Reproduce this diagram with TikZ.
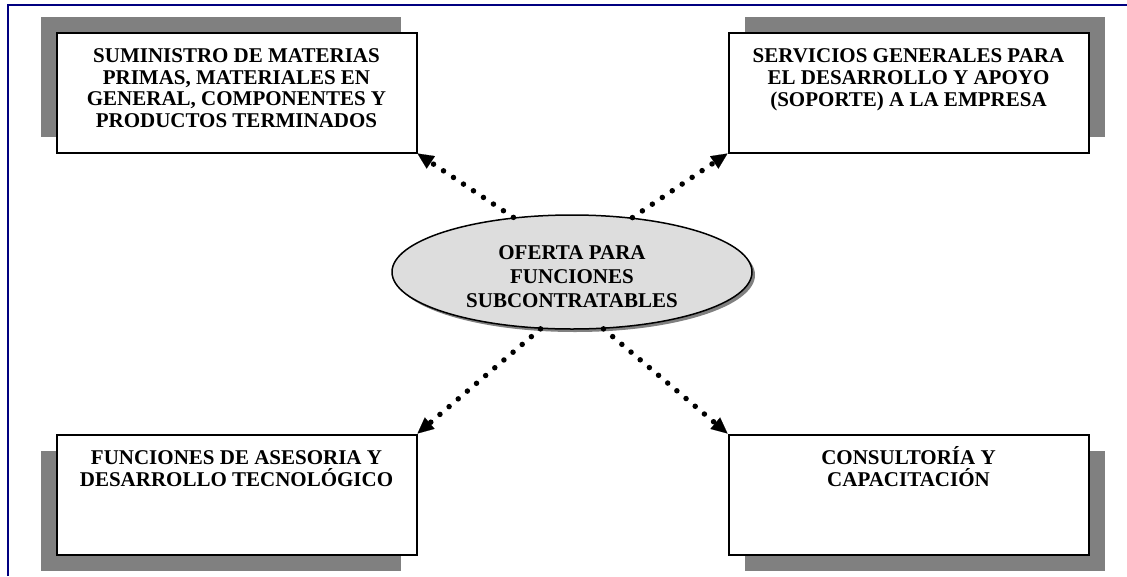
\documentclass[tikz,border=0pt]{standalone}
\usepackage{fontspec}
\setmainfont{Liberation Serif}
\usetikzlibrary{shapes.geometric,shadows,arrows.meta}
\definecolor{framenavy}{HTML}{000080}
\definecolor{shadowgray}{HTML}{808080}
\definecolor{ovalfill}{HTML}{DDDDDD}
\tikzset{
  x=1pt, y=-1pt,
  frame/.style={draw=framenavy, line width=2pt},
  box/.style={draw=black, line width=2pt, fill=white, minimum width=360pt,
    minimum height=120pt, inner sep=0pt},
  boxtext/.style={font=\fontsize{21}{21.7}\selectfont\bfseries, align=center,
    inner sep=0pt, anchor=base},
  shadowNW/.style={general shadow={fill=shadowgray, shadow xshift=-16pt, shadow yshift=16pt}},
  shadowNE/.style={general shadow={fill=shadowgray, shadow xshift=16pt, shadow yshift=16pt}},
  shadowSW/.style={general shadow={fill=shadowgray, shadow xshift=-16pt, shadow yshift=-16pt}},
  shadowSE/.style={general shadow={fill=shadowgray, shadow xshift=16pt, shadow yshift=-16pt}},
  oval/.style={ellipse, draw=black, line width=1.5pt, fill=ovalfill,
    minimum width=360pt, minimum height=114pt, inner sep=0pt,
    general shadow={fill=shadowgray, shadow xshift=3pt, shadow yshift=-3pt}},
  ovaltext/.style={font=\fontsize{21}{24}\selectfont\bfseries, align=center,
    inner sep=0pt, anchor=base},
  dotlink/.style={line width=5.5pt, line cap=round, dash pattern=on 0pt off 12pt,
    -{Triangle[length=16pt, width=15pt, line width=0.1pt]}},
}
\begin{document}
\begin{tikzpicture}
\useasboundingbox (0,0) rectangle (1127,576);
\fill[white] (0,0) rectangle (1127,576);
% open frame along the top and left edges
\draw[frame] (8,576) -- (8,5) -- (1127,5);

% the four boxes
\node[box, shadowNW] (tl) at (236.5,92.5) {};
\node[box, shadowNE] (tr) at (908.5,92.5) {};
\node[box, shadowSW] (bl) at (236.5,494.5) {};
\node[box, shadowSE] (br) at (908.5,494.5) {};

% box captions, placed by the baseline of their last line
\node[boxtext] (tltext) at ([yshift=-96pt]tl.north)
  {SUMINISTRO DE MATERIAS\\PRIMAS, MATERIALES EN\\GENERAL, COMPONENTES Y\\PRODUCTOS TERMINADOS};
\node[boxtext] (trtext) at ([yshift=-74.5pt]tr.north)
  {SERVICIOS GENERALES PARA\\EL DESARROLLO Y APOYO\\(SOPORTE) A LA EMPRESA};
\node[boxtext] (bltext) at ([yshift=-53pt]bl.north)
  {FUNCIONES DE ASESORIA Y\\DESARROLLO TECNOLÓGICO};
\node[boxtext] (brtext) at ([yshift=-53pt]br.north)
  {CONSULTORÍA Y\\CAPACITACIÓN};

% central oval
\node[oval] (center) at (572,272) {};
\node[ovaltext] (centertext) at ([yshift=-35pt]center.center)
  {OFERTA PARA\\FUNCIONES\\SUBCONTRATABLES};

% dotted connectors
\draw[dotlink] (center.137) -- (tl.south east);
\draw[dotlink] (center.42) -- (tr.south west);
\draw[dotlink] (center.241) -- (bl.north east);
\draw[dotlink] (center.299) -- (br.north west);
\end{tikzpicture}
\end{document}
